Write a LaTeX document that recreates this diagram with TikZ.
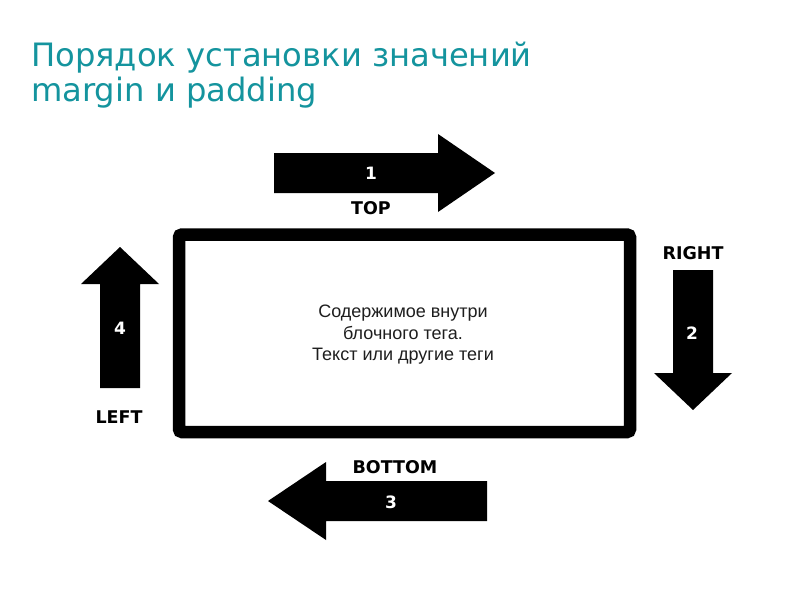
\documentclass[tikz,border=0pt]{standalone}
\usepackage{fontspec}
\setmainfont{Liberation Sans}
\newfontfamily\dejavu{DejaVu Sans}
\definecolor{titleteal}{RGB}{20,148,158}
\begin{document}
\begin{tikzpicture}[x=1pt,y=-1pt,
  arrowshape/.style={fill=black,draw=none},
  numlabel/.style={text=white,font=\dejavu\bfseries\fontsize{17}{18}\selectfont,inner sep=0},
  dirlabel/.style={text=black,font=\dejavu\bfseries\fontsize{17.5}{18}\selectfont,inner sep=0},
  boxframe/.style={draw=black,line width=12.5pt,rounded corners=3pt,fill=white}]
\useasboundingbox[fill=white] (0,0) rectangle (800,599);
% title
\node[anchor=base west,inner sep=0,text=titleteal,font=\dejavu\fontsize{32.2}{35}\selectfont] (t1) at (31,67) {Порядок установки значений};
\node[anchor=base west,inner sep=0,text=titleteal,font=\dejavu\fontsize{32.2}{35}\selectfont] (t2) at (31,102) {margin и padding};
% box
\draw[boxframe] (179,234.5) rectangle (630,432);
\node[align=center,inner sep=0,font=\fontsize{18}{21.5}\selectfont,text={rgb,255:red,30;green,30;blue,30}] (content) at (403,335) {Содержимое внутри\\блочного тега.\\Текст или другие теги};
% arrow 1 (top, right)
\fill[arrowshape] (274,153) -- (438,153) -- (438,134) -- (495,173) -- (438,212) -- (438,193) -- (274,193) -- cycle;
\node[numlabel] (n1) at (371,173) {1};
\node[dirlabel] (top) at (371,208) {TOP};
% arrow 2 (right, down)
\fill[arrowshape] (673,270) -- (713,270) -- (713,373) -- (732,373) -- (693,410) -- (654,373) -- (673,373) -- cycle;
\node[numlabel] (n2) at (692,333) {2};
\node[dirlabel] (right) at (693,253) {RIGHT};
% arrow 3 (bottom, left)
\fill[arrowshape] (487,481) -- (326,481) -- (326,462) -- (268,501) -- (326,540) -- (326,521) -- (487,521) -- cycle;
\node[numlabel] (n3) at (391,502) {3};
\node[dirlabel] (bottom) at (395,467) {BOTTOM};
% arrow 4 (left, up)
\fill[arrowshape] (100,388) -- (100,284) -- (81,284) -- (120,247) -- (159,284) -- (140,284) -- (140,388) -- cycle;
\node[numlabel] (n4) at (120,328) {4};
\node[dirlabel] (left) at (119,417) {LEFT};
\end{tikzpicture}
\end{document}
